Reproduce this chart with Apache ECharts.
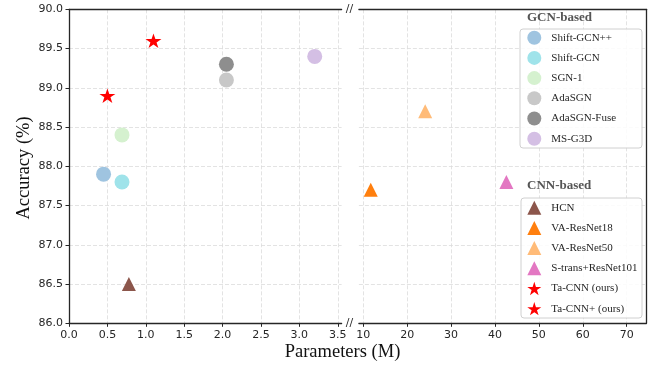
<!DOCTYPE html>
<html><head><meta charset="utf-8">
<script src="https://cdn.jsdelivr.net/npm/echarts@6/dist/echarts.min.js"></script>
<style>html,body{margin:0;padding:0;background:#fff}#c{width:654px;height:366px}</style>
</head><body><div id="c"></div>
<script>
// ---- data ----
const gcnNames = ['Shift-GCN++', 'Shift-GCN', 'SGN-1', 'AdaSGN', 'AdaSGN-Fuse', 'MS-G3D'];
const gcnParams = [0.45, 0.69, 0.69, 2.05, 2.05, 3.2];
const gcnAcc = [87.9, 87.8, 88.4, 89.1, 89.3, 89.4];

const cnnNames = ['HCN', 'VA-ResNet18', 'VA-ResNet50', 'S-trans+ResNet101', 'Ta-CNN (ours)', 'Ta-CNN+ (ours)'];
const cnnParams = [0.78, 11.7, 24.1, 42.6, 0.5, 1.1];
const cnnAcc = [86.5, 87.7, 88.7, 87.8, 88.9, 89.6];

const xTicksLeft = [0, 0.5, 1.0, 1.5, 2.0, 2.5, 3.0, 3.5];
const xTicksRight = [10, 20, 30, 40, 50, 60, 70];
const yTicks = [86.0, 86.5, 87.0, 87.5, 88.0, 88.5, 89.0, 89.5, 90.0];

// ---- styles ----
const gcnColors = ['#9fc4e0', '#9fe3ea', '#d5f1cf', '#c8c8c8', '#8e8e8e', '#d4bfe4'];
const cnnColors = ['#8c564b', '#ff7f0e', '#ffbb78', '#e377c2', '#ff0000', '#ff0000'];
const STAR = 'path://M50 0 L61.23 34.55 L97.55 34.55 L68.17 55.90 L79.39 90.45 L50 69.1 L20.61 90.45 L31.83 55.90 L2.45 34.55 L38.77 34.55 Z';
const cnnSymbols = ['triangle', 'triangle', 'triangle', 'triangle', STAR, STAR];
const cnnSizes = [14, 14, 14, 14, [16, 15.2], [16, 15.2]];
const BREAK = 3.6; // values below go to the left panel

const spine = '#262626';
const gridLine = {show: true, lineStyle: {color: '#dcdcdc', width: 0.8, type: [4, 2]}};
const tickFont = {fontFamily: 'DejaVu Sans', fontSize: 11, color: '#262626'};

const series = [];
gcnNames.forEach((n, i) => {
  const left = gcnParams[i] < BREAK;
  series.push({
    type: 'scatter', name: n,
    xAxisIndex: left ? 0 : 2, yAxisIndex: left ? 0 : 1,
    data: [[gcnParams[i], gcnAcc[i]]],
    symbol: 'circle', symbolSize: 15,
    itemStyle: {color: gcnColors[i], opacity: 1},
    emphasis: {disabled: true}, z: 3
  });
});
cnnNames.forEach((n, i) => {
  const left = cnnParams[i] < BREAK;
  series.push({
    type: 'scatter', name: n,
    xAxisIndex: left ? 0 : 2, yAxisIndex: left ? 0 : 1,
    data: [[cnnParams[i], cnnAcc[i]]],
    symbol: cnnSymbols[i], symbolSize: cnnSizes[i], symbolKeepAspect: true,
    itemStyle: {color: cnnColors[i], opacity: 1},
    emphasis: {disabled: true}, z: 3
  });
});

const legendCommon = {
  orient: 'vertical', padding: 0, itemWidth: 14, itemHeight: 14, itemGap: 6.2,
  itemStyle: {opacity: 1}, selectedMode: false,
  textStyle: {fontFamily: 'Liberation Serif', fontSize: 11, color: '#262626', lineHeight: 14, padding: [0, 0, 0, 5]},
  z: 5
};

const option = {
  animation: false,
  backgroundColor: '#fff',
  grid: [
    {left: 69, top: 9.3, width: 272.6, height: 314},
    {left: 358.9, top: 9.3, width: 287.5, height: 314}
  ],
  xAxis: [
    {type: 'value', gridIndex: 0, position: 'bottom', min: 0, max: 3.55,
      axisLine: {show: true, onZero: false, lineStyle: {color: spine, width: 1.3}},
      axisTick: {show: true, length: 3.5, customValues: xTicksLeft, lineStyle: {color: spine}},
      axisLabel: {show: true, margin: 6, customValues: xTicksLeft, formatter: v => v.toFixed(1), ...tickFont},
      splitLine: gridLine},
    {type: 'value', gridIndex: 0, position: 'top', min: 0, max: 3.55,
      axisLine: {show: true, onZero: false, lineStyle: {color: spine, width: 1.3}},
      axisTick: {show: false}, axisLabel: {show: false}, splitLine: {show: false}},
    {type: 'value', gridIndex: 1, position: 'bottom', min: 9, max: 74.5,
      axisLine: {show: true, onZero: false, lineStyle: {color: spine, width: 1.3}},
      axisTick: {show: true, length: 3.5, customValues: xTicksRight, lineStyle: {color: spine}},
      axisLabel: {show: true, margin: 6, customValues: xTicksRight, ...tickFont},
      splitLine: gridLine},
    {type: 'value', gridIndex: 1, position: 'top', min: 9, max: 74.5,
      axisLine: {show: true, onZero: false, lineStyle: {color: spine, width: 1.3}},
      axisTick: {show: false}, axisLabel: {show: false}, splitLine: {show: false}}
  ],
  yAxis: [
    {type: 'value', gridIndex: 0, position: 'left', min: 86, max: 90, interval: 0.5,
      axisLine: {show: true, onZero: false, lineStyle: {color: spine, width: 1.3}},
      axisTick: {show: true, length: 3.5, lineStyle: {color: spine}},
      axisLabel: {show: true, margin: 6, formatter: v => v.toFixed(1), ...tickFont},
      splitLine: gridLine},
    {type: 'value', gridIndex: 1, position: 'right', min: 86, max: 90, interval: 0.5,
      axisLine: {show: true, onZero: false, lineStyle: {color: spine, width: 1.3}},
      axisTick: {show: false}, axisLabel: {show: false},
      splitLine: gridLine}
  ],
  legend: [
    Object.assign({}, legendCommon, {data: gcnNames, left: 527.3, top: 30.7}),
    Object.assign({}, legendCommon, {data: cnnNames, left: 527.3, top: 200.7})
  ],
  graphic: [
    {type: 'rect', z: 1, shape: {x: 520, y: 29, width: 122, height: 119, r: 3},
      style: {fill: 'rgba(255,255,255,0.85)', stroke: '#d0d0d0', lineWidth: 1}},
    {type: 'rect', z: 1, shape: {x: 521, y: 198, width: 121, height: 120, r: 3},
      style: {fill: 'rgba(255,255,255,0.85)', stroke: '#d0d0d0', lineWidth: 1}},
    {type: 'text', z: 5, left: 527, top: 11, style: {text: 'GCN-based', font: 'bold 13px "Liberation Serif"', fill: '#555'}},
    {type: 'text', z: 5, left: 527, top: 179, style: {text: 'CNN-based', font: 'bold 13px "Liberation Serif"', fill: '#555'}},
    {type: 'text', z: 5, x: 349.5, y: 9.3, style: {text: '//', font: '11px "DejaVu Sans"', fill: '#262626', align: 'center', verticalAlign: 'middle'}},
    {type: 'text', z: 5, x: 349.5, y: 323.3, style: {text: '//', font: '11px "DejaVu Sans"', fill: '#262626', align: 'center', verticalAlign: 'middle'}},
    {type: 'text', z: 5, x: 342.5, y: 352, style: {text: 'Parameters (M)', font: '18.5px "Liberation Serif"', fill: '#111', align: 'center', verticalAlign: 'middle'}},
    {type: 'text', z: 5, x: 24, y: 168, rotation: Math.PI / 2,
      style: {text: 'Accuracy (%)', font: '18.5px "Liberation Serif"', fill: '#111', align: 'center', verticalAlign: 'middle'}}
  ],
  series: series
};
const chart = echarts.init(document.getElementById('c'), null, {renderer: 'canvas'});
chart.setOption(option);
</script>
</body></html>
